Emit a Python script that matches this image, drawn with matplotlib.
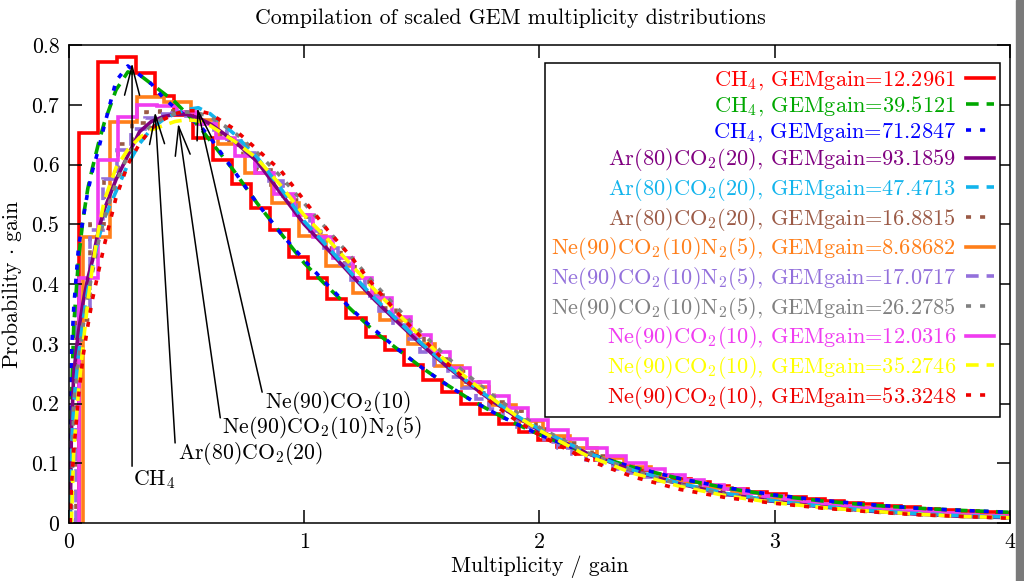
import numpy as np
import matplotlib
matplotlib.use('Agg')
import matplotlib.pyplot as plt
from matplotlib.patches import Rectangle

plt.rcParams['font.family'] = 'cmr10'
plt.rcParams['mathtext.fontset'] = 'cm'
plt.rcParams['axes.unicode_minus'] = False

FS = 15.7

# GEM gains and gas mixtures, in legend order
gains = [12.2961, 39.5121, 71.2847, 93.1859, 47.4713, 16.8815,
         8.68682, 17.0717, 26.2785, 12.0316, 35.2746, 53.3248]
gases = ['CH$_4$', 'CH$_4$', 'CH$_4$',
         'Ar(80)CO$_2$(20)', 'Ar(80)CO$_2$(20)', 'Ar(80)CO$_2$(20)',
         'Ne(90)CO$_2$(10)N$_2$(5)', 'Ne(90)CO$_2$(10)N$_2$(5)', 'Ne(90)CO$_2$(10)N$_2$(5)',
         'Ne(90)CO$_2$(10)', 'Ne(90)CO$_2$(10)', 'Ne(90)CO$_2$(10)']

# low gain runs: one value per multiplicity bin n = 1, 2, ... (x1000)
ch4_12 = [653, 772, 780, 753, 715, 683, 645, 607, 568, 528, 490, 445, 410, 375, 343,
          312, 290, 265, 240, 220, 200, 183, 166, 152, 139, 127, 116, 106, 97, 89,
          81, 74, 68, 62, 57, 52, 48, 44, 40, 37, 34, 31, 29, 26, 24, 22, 20, 19, 17]
ar_16 = [340, 500, 580, 635, 670, 688, 690, 688, 680, 668, 650, 632, 612, 590, 565,
         540, 512, 487, 460, 435, 410, 385, 360, 338, 315, 295, 275, 255, 236, 218,
         202, 187, 172, 158, 146, 134, 123, 113, 104, 95, 88, 81, 74, 68, 63, 58, 53,
         49, 45, 41, 38, 35, 32, 30, 27, 25, 23, 21, 20, 18, 17, 15, 14, 13, 12, 11, 10, 10]
nen2_8 = [479, 671, 713, 705, 675, 635, 585, 535, 480, 430, 385, 340, 300, 262, 228,
          197, 170, 146, 126, 108, 93, 79, 68, 58, 50, 42, 36, 31, 26, 22, 19, 16, 14, 12, 10]
nen2_17 = [360, 490, 575, 625, 660, 678, 685, 686, 682, 672, 657, 640, 620, 598, 573, 548,
           515, 488, 460, 433, 406, 380, 355, 331, 308, 286, 265, 245, 226, 208, 191, 175, 161,
           147, 136, 125, 115, 106, 98, 90, 83, 77, 71, 65, 60, 55, 51, 47, 43, 40, 37, 34,
           32, 29, 27, 25, 23, 21, 20, 18, 17, 16, 14, 13, 12, 11, 11, 10]
ne_12 = [410, 607, 680, 700, 698, 688, 668, 645, 615, 585, 550, 515, 478, 443, 410,
         376, 345, 315, 287, 260, 236, 213, 192, 173, 155, 140, 125, 112, 100, 90,
         80, 72, 64, 57, 51, 45, 40, 36, 32, 28, 25, 22, 20, 18, 16, 14, 12, 11]

x_fine = [0.005, 0.01, 0.02, 0.04, 0.06, 0.08, 0.10, 0.125, 0.15, 0.2, 0.25, 0.3, 0.35,
          0.4, 0.45, 0.5, 0.55, 0.6, 0.7, 0.8, 0.9, 1.0, 1.1, 1.2, 1.3, 1.4, 1.5, 1.6,
          1.7, 1.8, 1.9, 2.0, 2.2, 2.4, 2.6, 2.8, 3.0, 3.2, 3.4, 3.6, 3.8, 4.0]
ch4_39 = [0, 200, 330, 440, 510, 560, 595, 635, 670, 725, 755, 750, 735, 720, 705, 685,
          665, 640, 590, 535, 485, 435, 395, 357, 320, 290, 260, 233, 208, 186, 166, 148,
          117, 93, 74, 58, 46, 37, 30, 25, 21, 18]
ch4_71 = [0, 280, 360, 460, 510, 555, 590, 625, 665, 740, 765, 750, 735, 712, 695, 680,
          668, 645, 590, 535, 485, 440, 398, 358, 323, 290, 260, 233, 208, 186, 166, 148,
          117, 93, 74, 59, 47, 38, 31, 25, 21, 18]
ar_93 = [0, 150, 250, 320, 370, 410, 440, 490, 525, 575, 615, 655, 672, 680, 684, 684,
         678, 668, 640, 605, 552, 500, 458, 415, 373, 335, 298, 264, 233, 204, 178, 155,
         117, 87, 65, 48, 36, 27, 20, 15, 11, 9]
ar_47 = [0, 120, 200, 280, 340, 390, 430, 475, 510, 555, 600, 635, 660, 675, 685, 692,
         695, 685, 652, 612, 560, 505, 462, 418, 376, 338, 300, 266, 235, 206, 180, 157,
         118, 88, 66, 49, 37, 28, 21, 16, 12, 10]
nen2_26 = [0, 0, 200, 270, 330, 380, 420, 470, 510, 570, 615, 645, 665, 678, 685, 688,
           686, 680, 655, 620, 580, 535, 490, 445, 400, 358, 318, 280, 246, 214, 186, 160,
           118, 87, 64, 47, 35, 26, 19, 14, 11, 8]
ne_35 = [0, 0, 120, 220, 300, 370, 430, 490, 540, 595, 625, 645, 658, 665, 672, 675,
         673, 665, 640, 610, 565, 515, 475, 432, 390, 350, 310, 272, 240, 208, 180, 155,
         113, 83, 61, 45, 34, 26, 20, 15, 11, 9]
ne_53 = [0, 60, 120, 210, 280, 330, 375, 420, 465, 545, 600, 635, 660, 675, 685, 690,
         690, 685, 660, 625, 590, 540, 490, 445, 395, 350, 310, 270, 235, 200, 172, 147,
         106, 77, 56, 42, 33, 25, 19, 14, 11, 8]

series = [ch4_12, ch4_39, ch4_71, ar_93, ar_47, ar_16,
          nen2_8, nen2_17, nen2_26, ne_12, ne_35, ne_53]
is_hist = [True, False, False, False, False, True,
           True, True, False, True, False, False]

colors = ['#ff0000', '#00a800', '#0000ff', '#800080', '#12b4ec', '#9b5a46',
          '#ff7f1a', '#9370db', '#808080', '#f03cf0', '#ffff00', '#ee0000']
solid = '-'
dashed = (0, (3.5, 2.2))
dotted = (0, (1.4, 2.5))
styles = [solid, dashed, dotted] * 4

fig = plt.figure(figsize=(10.24, 5.81), dpi=100)
ax = fig.add_axes([0.0674, 0.0998, 0.9189, 0.8227])

handles = []
labels = []
for gain, gas, vals, hist, col, ls in zip(gains, gases, series, is_hist, colors, styles):
    y = np.array(vals) / 1000.0
    if hist:
        edges = (np.arange(len(y) + 1) + 0.5) / gain
        h = ax.stairs(y, edges, baseline=0, color=col, lw=2.6, linestyle=ls)
    else:
        h, = ax.plot(x_fine, y, color=col, lw=2.6, linestyle=ls)
    handles.append(h)
    labels.append('%s, GEMgain=%s' % (gas, repr(gain)))

ax.set_xlim(0, 4)
ax.set_ylim(0, 0.8)
ax.set_xticks([0, 1, 2, 3, 4])
ax.set_xticklabels(['0', '1', '2', '3', '4'])
ax.set_yticks([0, 0.1, 0.2, 0.3, 0.4, 0.5, 0.6, 0.7, 0.8])
ax.set_yticklabels(['0', '0.1', '0.2', '0.3', '0.4', '0.5', '0.6', '0.7', '0.8'])
ax.tick_params(direction='in', length=9.5, width=1.1, top=True, right=True,
               labelsize=FS, pad=7)
for sp in ax.spines.values():
    sp.set_linewidth(1.1)

ax.set_xlabel('Multiplicity / gain', fontsize=FS, labelpad=2)
ax.set_ylabel(r'Probability $\cdot$ gain', fontsize=FS, labelpad=5)
fig.text(0.498, 1 - 18 / 581, 'Compilation of scaled GEM multiplicity distributions',
         ha='center', va='center', fontsize=FS)

# labelled arrows pointing at the peaks
arrow = dict(arrowstyle='->,head_length=1.05,head_width=0.27', color='k', lw=1.1,
             shrinkA=0, shrinkB=0, mutation_scale=20)
notes = [('CH$_4$', (0.268, 0.770), (0.268, 0.095), (0.272, 0.072)),
         ('Ar(80)CO$_2$(20)', (0.366, 0.688), (0.451, 0.134), (0.462, 0.117)),
         ('Ne(90)CO$_2$(10)N$_2$(5)', (0.464, 0.669), (0.643, 0.176), (0.652, 0.160)),
         ('Ne(90)CO$_2$(10)', (0.545, 0.695), (0.821, 0.219), (0.832, 0.202))]
for txt, head, tail, pos in notes:
    ax.annotate('', xy=head, xytext=tail, arrowprops=arrow, zorder=20)
    ax.text(pos[0], pos[1], txt, fontsize=FS, ha='left', va='center', zorder=20)

leg = ax.legend(handles, labels, loc='upper right', bbox_to_anchor=(0.9894, 0.9623),
                borderaxespad=0, markerfirst=False, fancybox=False, edgecolor='k',
                framealpha=1, handlelength=1.25, handletextpad=0.45, labelspacing=0.12,
                borderpad=0.27, fontsize=16.1)
leg.get_frame().set_linewidth(1.1)
for t, c in zip(leg.get_texts(), colors):
    t.set_color(c)

# grey strip at the right edge of the window
fig.patches.append(Rectangle((1016 / 1024, 0), 8 / 1024, 1, transform=fig.transFigure,
                             color='#7a7a7a', zorder=10))

fig.savefig('out.png', dpi=100)
